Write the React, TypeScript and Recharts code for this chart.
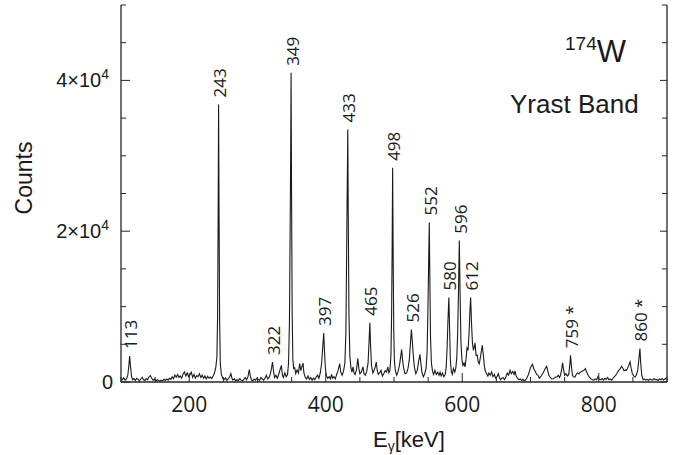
import React from 'react';
import { ComposedChart, Line, Scatter, XAxis, YAxis } from 'recharts';

// gamma spectrum of 174W, [E (keV), counts], split by energy range
const spectrumLow: [number, number][] = [
  [100, 450], [102, 300], [104, 550], [106, 250], [108, 400], [110, 900], [111.5, 2200], [112.7, 3450],
  [114, 2000], [115.5, 700], [117, 300], [119, 450], [121, 200], [123, 500], [125, 350], [127, 150],
  [129, 400], [131, 600], [133, 300], [135, 200], [137, 450], [139, 300], [141, 700], [143, 850],
  [145, 500], [147, 250], [149, 400], [151, 150], [153, 300], [155, 200], [157, 100], [159, 250],
  [161, 150], [163, 350], [165, 200], [167, 400], [169, 250], [171, 500], [173, 350], [175, 700],
  [177, 450], [179, 900], [181, 650], [183, 1000], [185, 600], [187, 800], [189, 500], [191, 1100],
  [193, 1350], [195, 800], [197, 1200], [199, 700], [201, 950], [203, 1300], [205, 600], [207, 1000],
  [209, 500], [211, 850], [213, 700], [215, 1100], [217, 600], [219, 900], [221, 500], [223, 800],
  [225, 400], [227, 750], [229, 500], [231, 650], [233, 450], [235, 800], [237, 1200], [239, 2000],
];

const spectrumMid: [number, number][] = [
  [240.5, 3300], [241.5, 8500], [242.3, 21000], [243, 36800], [243.7, 22000], [244.5, 8000], [245.5, 2500],
  [247, 1000], [249, 500], [251, 300], [253, 550], [255, 200], [257, 400], [259, 650], [261, 1100],
  [262.5, 500], [264, 250], [266, 450], [268, 150], [270, 300], [272, 200], [274, 450], [276, 250],
  [278, 150], [280, 350], [282, 600], [284, 300], [286, 700], [288, 1650], [289.5, 800], [291, 300],
  [293, 150], [295, 400], [297, 250], [299, 500], [301, 350], [303, 200], [305, 600], [307, 400],
  [309, 250], [311, 500], [313, 900], [315, 400], [317, 600], [319, 1100], [320.5, 1800], [322, 2650],
  [323.5, 1400], [325, 600], [327, 900], [329, 500], [331, 1000], [333, 1600], [335, 2200], [336.5, 900],
  [338, 600], [340, 1200], [342, 700], [344, 1000], [345.5, 2500], [346.8, 8000], [347.8, 20000],
  [348.6, 30000], [349.2, 41000], [349.9, 25000], [350.8, 9000], [351.8, 3000], [353, 1800], [354.5, 1900],
  [356, 1100], [358, 1600], [360, 1200], [361.8, 2450], [363.5, 1500], [365, 2000], [366.7, 2500],
  [368, 1200], [370, 600], [372, 400], [374, 800], [376, 350], [378, 600], [380, 250], [382, 500],
  [384, 300], [386, 650], [388, 900], [390, 500], [392, 1200], [394, 2500], [395.5, 4500], [397, 6500],
  [398.2, 4000], [399.5, 1800],
];

const spectrumHigh: [number, number][] = [
  [401, 800], [403, 500], [405, 700], [407, 400], [408.5, 1000], [410, 500], [412, 700], [414, 400],
  [416, 1000], [418, 1500], [420.4, 2450], [422, 1300], [424, 900], [426, 1400], [428, 2500], [429.5, 6500],
  [430.5, 16000], [431.5, 26000], [432.3, 33500], [433, 22000], [434, 9000], [435.3, 3500], [437, 1800],
  [438.5, 1300], [440, 2000], [441.5, 1200], [443, 1000], [445, 1600], [447, 3100], [448.5, 1800],
  [450, 1100], [452, 1300], [454.6, 2000], [456, 1100], [458, 900], [460, 1400], [462, 2500], [463.5, 5500],
  [464.6, 7850], [465.6, 5000], [467, 2200], [469, 1200], [471, 1600], [472.5, 2000], [474, 2650],
  [475.5, 1500], [477, 1000], [479, 1200], [481, 1550], [483, 800], [485, 1100], [487, 1500], [489, 1300],
  [491, 2000], [492.5, 1200], [494, 1500], [495.5, 3500], [496.5, 9000], [497.3, 18000], [498, 28400],
  [498.7, 18000], [499.6, 7000], [500.6, 2800], [502, 1500], [504, 900], [506, 1400], [508, 2200],
  [510, 3500], [511.2, 4300], [512.5, 3000], [514, 1900], [516, 1100], [518.6, 1200], [520.5, 1800],
  [522.5, 3000], [524, 5000], [525.5, 6970], [527, 5200], [528.5, 3200], [530, 1900], [532, 1100],
  [534, 1500], [536, 2700], [538, 3680], [539.5, 2400], [541, 1200], [543, 700], [545, 1100], [547, 1800],
  [548.5, 4000], [549.8, 10000], [550.8, 16000], [551.7, 21150], [552.5, 14000], [553.5, 6000],
  [554.8, 2500], [556.5, 1400], [558, 1000], [560, 1550], [562, 1000], [564, 1300], [566, 900],
  [567.5, 1300], [569, 800], [571, 1200], [573, 700], [575, 1000], [576.5, 2000], [577.8, 4500],
  [579, 8000], [580.4, 11200], [581.5, 7000], [582.5, 3000], [584, 1300], [585.5, 1000], [587, 1800],
  [589, 1300], [590.5, 1800], [592, 3200], [593.3, 6500], [594.5, 12000], [595.7, 18750], [596.8, 12000],
  [598, 5500], [599.5, 3000], [601, 2200], [602.6, 2500], [604, 2000], [605.5, 3000], [607, 4500],
  [608.5, 4200], [610, 6500], [611.3, 9500], [612.3, 11200], [613.5, 8000], [615, 5000], [616.5, 4200],
  [618.7, 5200], [620.3, 3500], [622, 3550], [623.5, 2600], [625, 2400], [627, 3500], [629.4, 4880],
  [631, 3500], [632.5, 2000], [634, 1400], [635.8, 1100], [637.5, 800], [639, 1200],
];

const spectrumTail: [number, number][] = [
  [641, 900], [643, 1330], [645, 700], [647, 1000], [649, 500], [651, 700], [652.8, 1100], [654.5, 600],
  [656, 300], [658, 500], [660, 570], [662, 300], [664, 700], [666, 1200], [668, 900], [670, 1550],
  [672, 1100], [674, 1400], [676, 1000], [677.5, 1460], [679, 800], [681, 500], [683, 300], [685, 400],
  [687, 200], [689, 350], [691, 150], [693, 300], [695, 600], [697, 1000], [699, 1600], [701, 2100],
  [703, 2350], [705, 1700], [707, 1400], [709, 1000], [711, 890], [713, 500], [715, 700], [717, 1000],
  [719, 1300], [721, 1700], [723.7, 2080], [725.5, 1400], [727, 900], [729, 600], [731, 440], [733, 400],
  [735, 550], [737, 650], [739, 700], [740.8, 890], [742.5, 600], [744, 900], [745.5, 1600], [747, 2530],
  [748.5, 1600], [750, 900], [752, 1100], [754, 800], [756, 1000], [757.5, 2200], [758.7, 3550],
  [760, 2000], [761.5, 900], [763, 700], [765, 660], [767, 1000], [769, 1200], [771, 1100], [773, 1300],
  [775, 1400], [777, 1500], [779, 1600], [780.5, 1770], [782, 1400], [783.5, 1100], [785, 800], [787, 570],
  [789, 400], [791, 300], [793, 250], [795, 400], [797, 300], [799, 750], [801, 350], [803, 300],
  [805, 450], [807, 250], [809, 500], [811, 350], [813, 600], [815, 300], [817, 400], [819, 250],
  [821, 500], [823, 700], [825, 900], [827, 1200], [829, 1500], [831, 1700], [833.6, 2080], [835.5, 1800],
  [837, 1500], [839, 1600], [840.5, 1550], [842, 1800], [844, 2200], [845.8, 2660], [847.5, 1800],
  [849, 1200], [851, 800], [853, 660], [855, 900], [857, 1500], [858.8, 3000], [860.3, 4440], [861.5, 2500],
  [863, 900], [865, 300], [867, 400], [869, 250], [871, 350], [873, 200], [875, 400], [877, 300],
  [879, 250], [881, 450], [883, 300], [885, 350], [887, 200], [889, 400], [891, 300], [893, 450],
  [895, 250], [897, 400], [899, 550], [900, 350],
];

// yrast transitions (keV); * marks contaminants
const peakLabels = ['113', '243', '322', '349', '397', '433', '465', '498', '526', '552', '580', '596', '612', '759 *', '860 *'];

const energyTicks = [100, 150, 200, 250, 300, 350, 400, 450, 500, 550, 600, 650, 700, 750, 800, 850, 900];
const countTicks = [0, 5000, 10000, 15000, 20000, 25000, 30000, 35000, 40000, 45000, 50000];

const INK = '#1a1a1a';
const FRAME = '#262626';
const ARIAL = '"Liberation Sans", Arial, sans-serif';
const OPEN = '"Open Sans", sans-serif';

const spectrum = [...spectrumLow, ...spectrumMid, ...spectrumHigh, ...spectrumTail].map(([energy, counts]) => ({
  energy,
  counts,
}));

// put each label on top of the highest channel near its energy
const labelPoints = peakLabels.map((text) => {
  const e = parseFloat(text);
  const near = spectrum.filter((p) => Math.abs(p.energy - e) <= 3);
  const top = near.reduce((a, b) => (b.counts > a.counts ? b : a));
  return { energy: top.energy, counts: top.counts, text };
});

const LeftTick = (props: any) => {
  const { x, y, payload } = props;
  const v = payload.value as number;
  const major = v % 20000 === 0;
  return (
    <g>
      <line x1={x} x2={x + (major ? 9 : 5)} y1={y} y2={y} stroke={FRAME} strokeWidth={1} />
      {major && v === 0 && (
        <text x={x - 8} y={y + 7} textAnchor="end" fontFamily={ARIAL} fontSize={20} fill={INK}>
          0
        </text>
      )}
      {major && v > 0 && (
        <text x={x - 12} y={y + 7} textAnchor="end" fontFamily={ARIAL} fontSize={20} fill={INK}>
          {`${v / 10000}×10`}
          <tspan dy={-8} fontSize={14}>
            4
          </tspan>
        </text>
      )}
    </g>
  );
};

const RightTick = (props: any) => {
  const { x, y, payload } = props;
  const major = (payload.value as number) % 20000 === 0;
  return <line x1={x - (major ? 7 : 5)} x2={x} y1={y} y2={y} stroke={FRAME} strokeWidth={1} />;
};

const BottomTick = (props: any) => {
  const { x, y, payload } = props;
  const v = payload.value as number;
  const major = v % 200 === 0;
  return (
    <g>
      <line x1={x} x2={x} y1={y} y2={y - (major ? 9 : 5)} stroke={FRAME} strokeWidth={1} />
      {major && (
        <text x={x} y={y + 30} textAnchor="middle" fontFamily={OPEN} fontSize={21} fill={INK}>
          {v}
        </text>
      )}
    </g>
  );
};

const TopTick = (props: any) => {
  const { x, y, payload } = props;
  const major = (payload.value as number) % 200 === 0;
  return <line x1={x} x2={x} y1={y} y2={y + (major ? 9 : 5)} stroke={FRAME} strokeWidth={1} />;
};

const PeakLabel = (props: any) => {
  const { cx, cy, payload } = props;
  return (
    <text
      transform={`translate(${cx + 1},${cy - 7}) rotate(-90)`}
      textAnchor="start"
      dominantBaseline="central"
      fontFamily={OPEN}
      fontSize={17}
      fill={INK}
    >
      {payload.text}
    </text>
  );
};

export default function App() {
  return (
    <div style={{ position: 'absolute', left: 0, top: 0, width: 675, height: 455, background: '#fff' }}>
      <ComposedChart width={675} height={455} data={spectrum} margin={{ top: 5, right: 0, bottom: 0, left: 0 }}>
        <XAxis
          dataKey="energy"
          type="number"
          domain={[100, 900]}
          ticks={energyTicks}
          interval={0}
          allowDataOverflow
          height={73}
          tickSize={0}
          tickMargin={0}
          tick={BottomTick}
          axisLine={{ stroke: FRAME, strokeWidth: 1.3 }}
        />
        <XAxis
          xAxisId="top"
          orientation="top"
          dataKey="energy"
          type="number"
          domain={[100, 900]}
          ticks={energyTicks}
          interval={0}
          allowDataOverflow
          height={0}
          tickSize={0}
          tickMargin={0}
          tick={TopTick}
          axisLine={{ stroke: FRAME, strokeWidth: 1.3 }}
        />
        <YAxis
          type="number"
          domain={[0, 50000]}
          ticks={countTicks}
          interval={0}
          allowDataOverflow
          width={121}
          tickSize={0}
          tickMargin={0}
          tick={LeftTick}
          axisLine={{ stroke: FRAME, strokeWidth: 1.3 }}
        />
        <YAxis
          yAxisId="right"
          orientation="right"
          type="number"
          domain={[0, 50000]}
          ticks={countTicks}
          interval={0}
          allowDataOverflow
          width={8}
          tickSize={0}
          tickMargin={0}
          tick={RightTick}
          axisLine={{ stroke: FRAME, strokeWidth: 1.3 }}
        />
        <Line
          dataKey="counts"
          type="linear"
          stroke={INK}
          strokeWidth={1.1}
          dot={false}
          activeDot={false}
          isAnimationActive={false}
        />
        <Scatter data={labelPoints} dataKey="counts" shape={PeakLabel} isAnimationActive={false} />
      </ComposedChart>
      <svg
        width={675}
        height={455}
        style={{ position: 'absolute', left: 0, top: 0, pointerEvents: 'none' }}
      >
        <text x={565} y={61.7} fontFamily={ARIAL} fill={INK}>
          <tspan fontSize={19} dy={-11.7}>
            174
          </tspan>
          <tspan fontSize={31} dy={11.7}>
            W
          </tspan>
        </text>
        <text x={510} y={113} fontFamily={ARIAL} fontSize={26} fill={INK}>
          Yrast Band
        </text>
        <text transform="translate(32,178) rotate(-90)" textAnchor="middle" fontFamily={ARIAL} fontSize={23} fill={INK}>
          Counts
        </text>
        <text x={373} y={446.5} fontFamily={ARIAL} fontSize={22} fill={INK}>
          E
          <tspan fontSize={14} dy={4}>
            γ
          </tspan>
          <tspan dy={-4}>[keV]</tspan>
        </text>
      </svg>
    </div>
  );
}
